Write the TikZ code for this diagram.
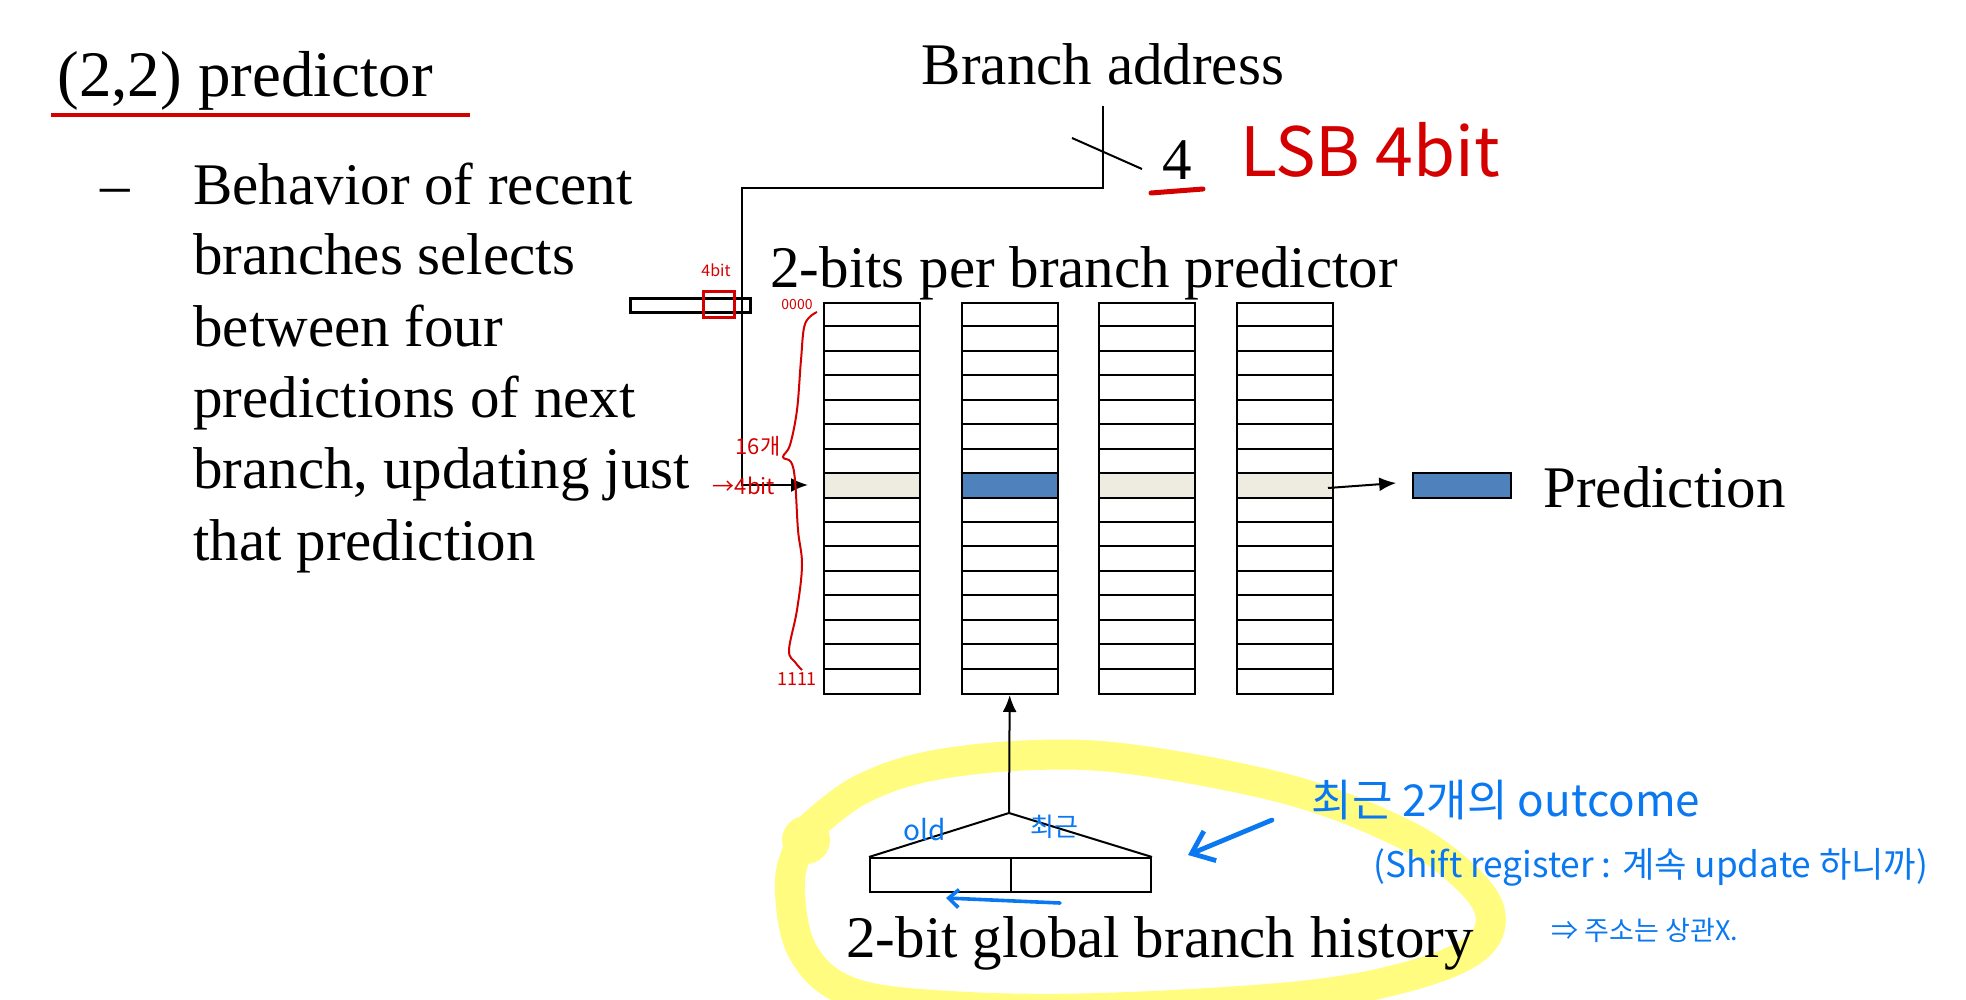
\documentclass[tikz,border=0pt]{standalone}
\usepackage{fontspec}
\setmainfont{Liberation Serif}
\newfontfamily\kr{Noto Sans CJK KR}
\usetikzlibrary{arrows.meta,calc}
\definecolor{handred}{RGB}{212,0,0}
\definecolor{handblue}{RGB}{10,120,240}
\definecolor{hl}{RGB}{255,252,128}
\definecolor{beige}{RGB}{238,236,225}
\definecolor{selblue}{RGB}{79,129,189}
\begin{document}
\begin{tikzpicture}[x=0.5pt,y=-0.5pt,
  txt/.style={font=\fontsize{29.5}{35}\selectfont, inner sep=0pt, anchor=base west},
  thin line/.style={line width=1pt, draw=black},
  arr/.style={line width=1pt, -{Latex[length=8.5pt,width=7pt]}},
  rednote/.style={text=handred, font=\kr\fontsize{#1}{#1}\selectfont, inner sep=0pt},
  bluenote/.style={text=handblue, font=\kr\fontsize{#1}{#1}\selectfont, inner sep=0pt},
  handline/.style={line width=#1, line cap=round, line join=round}]
\useasboundingbox (0,0) rectangle (1966,1000);
% yellow highlighter loop
\begin{scope}
\clip (0,0) rectangle (1966,1000);
\draw[hl, handline=15pt] plot[smooth, tension=0.6] coordinates {(812,826) (860,790) (930,766) (1035,755) (1137,760) (1290,790) (1400,832) (1460,872) (1490,912) (1476,948) (1410,976) (1300,996) (1100,1008) (950,1006) (850,992) (802,950) (790,880) (805,835)};
\fill[hl] (806,840) circle (12pt);
\end{scope}

% title and bullet text
\node[txt, font=\fontsize{32.5}{38}\selectfont] (title) at (57,97) {(2,2) predictor};
\draw[handred, line width=2pt] (51,115) -- (470,115);
\node[txt] (dash) at (100,205) {–};
\node[txt] (l1) at (193,205) {Behavior of recent};
\node[txt] (l2) at (193,275) {branches selects};
\node[txt] (l3) at (193,347) {between four};
\node[txt] (l4) at (193,417) {predictions of next};
\node[txt] (l5) at (193,488) {branch, updating just};
\node[txt] (l6) at (193,560) {that prediction};

% branch address
\node[txt, anchor=base] (addr) at (1103,85) {Branch address};
\node[txt, anchor=base] (four) at (1177,180) {4};
\coordinate (a1) at (1103,106);
\coordinate (a2) at (1103,188);
\coordinate (a3) at (742,188);
\coordinate (a4) at (742,485);
\coordinate (t1) at (808,485);
\draw[arr] (a1) -- (a2) -- (a3) -- (a4) -- (t1);
\draw[line width=1pt] (1072,138) -- (1142,169);

% small register bar
\node[draw, line width=1.5pt, minimum width=60pt, minimum height=7pt, inner sep=0pt] (bar) at (690,306) {};

% predictor table
\node[txt] (ptitle) at (770,288) {2-bits per branch predictor};
\foreach \i/\f in {1/beige,2/selblue,3/beige,4/beige} {
  \pgfmathsetmacro\xx{823+(\i-1)*137.7}
  \fill[\f] (\xx,473.1) rectangle ++(96,24.44);
  \foreach \r in {1,...,15} \draw[thin line] (\xx,{302+\r*24.44}) -- ++(96,0);
  \node[draw, line width=1pt, minimum width=48pt, minimum height=195.5pt, inner sep=0pt, anchor=north west] (col\i) at (\xx,302) {};
}

% prediction output
\node[draw, line width=0.8pt, fill=selblue, minimum width=49pt, minimum height=12.5pt, inner sep=0pt] (predbox) at (1462,485.5) {};
\coordinate (p4s) at (1328,488);
\draw[arr] (p4s) -- ($(predbox.west)+(-16,-2.5)$);
\node[txt] (predlbl) at (1543,507) {Prediction};

% global history
\node[draw, line width=1pt, minimum width=140.5pt, minimum height=17pt, inner sep=0pt] (hist) at (1010.5,875) {};
\draw[thin line] (hist.north) -- (hist.south);
\coordinate (apex) at (1009,813);
\draw[thin line] (hist.north west) -- (apex) -- (hist.north east);
\draw[arr] (apex) -- (col2.south);
\node[txt] (histlbl) at (846,957) {2-bit global branch history};

% red handwritten notes
\node[rednote=34] (lsb) at (1370,150) {LSB 4bit};
\draw[handred, handline=2.5pt] (1151,193) -- (1203,189);
\node[draw=handred, line width=1.5pt, minimum width=15.5pt, minimum height=13pt, inner sep=0pt] (redsq) at (718.5,305) {};
\node[rednote=8] (n4bit) at (716,270) {4bit};
\node[rednote=7] (n0000) at (797,305) {0000};
\node[rednote=11] (n16) at (758,446) {16개};
\node[rednote=11] (n4b) at (744,486) {→4bit};
\node[rednote=9] (n1111) at (797,679) {1111};
\draw[handred, line width=1pt] plot[smooth, tension=0.6] coordinates {(817,312) (805,324) (801,360) (797,410) (790,445) (783,457) (791,462) (795,480) (798,530) (802,565) (797,610) (789,650) (795,662) (802,670)};

% blue handwritten notes
\node[bluenote=22] (b1) at (1506,800) {최근 2개의 outcome};
\node[bluenote=17.6] (b2) at (1651,867) {(Shift register : 계속 update 하니까)};
\node[bluenote=13.5] (b3) at (1645,930) {⇒ 주소는 상관X.};
\node[bluenote=14] (bold) at (925,830) {old};
\node[bluenote=13] (brec) at (1054,827) {최근};
\coordinate (ba1) at (1272,820);
\coordinate (ba2) at (1188,855);
\draw[handblue, handline=2.4pt, -{Straight Barb[length=10pt,width=16pt]}] (ba1) -- (ba2);
\coordinate (bs1) at (1060,903);
\coordinate (bs2) at (946,898);
\draw[handblue, handline=1.8pt, -{Straight Barb[length=5pt,width=9pt]}] (bs1) -- (bs2);
\end{tikzpicture}
\end{document}
